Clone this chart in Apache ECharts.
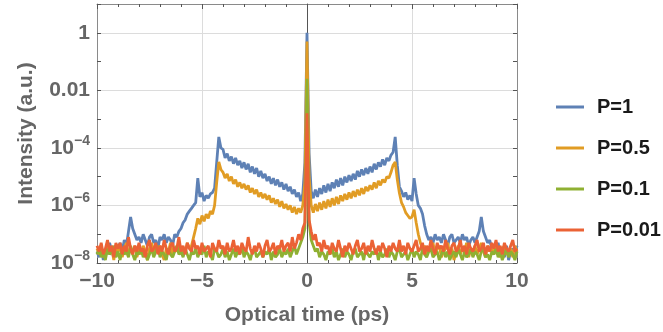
<!DOCTYPE html>
<html>
<head>
<meta charset="utf-8">
<script src="https://cdn.jsdelivr.net/npm/echarts@6/dist/echarts.min.js"></script>
<style>
  html, body { margin: 0; padding: 0; background: #fff; }
  #chart { width: 663px; height: 332px; }
</style>
</head>
<body>
<div id="chart"></div>
<script>
  // log10 of intensity, sampled every 0.1 ps from -10 to 10 ps
  var tStart = -10, tStep = 0.1;

  var seriesNames = ['P=1', 'P=0.5', 'P=0.1', 'P=0.01'];
  var seriesColors = ['#5e81b5', '#e19c24', '#8fb032', '#eb6235'];

  var logP1 = [
    -7.6,-7.8,-7.4,-7.9,-7.5,-7.7,-7.3,-7.6,-7.8,-7.4,
    -7.5,-7.3,-7.6,-7.2,-7.4,
    -6.9,-6.4,-6.8,-7.0,-7.2,
    -7.1,-7.3,-7.0,-7.2,-7.4,-7.1,-7.0,-7.3,-7.2,-7.5,
    -7.1,-7.2,-7.0,-7.3,-7.1,-7.2,-7.4,-7.0,-7.1,
    -6.9,-6.8,-6.6,-6.5,-6.3,-6.2,
    -6.1,-6.0,-5.9,-5.05,-5.7,
    -5.55,-5.85,-5.65,-5.75,-5.6,-5.55,-5.4,
    -4.5,-3.62,-4.0,
    -4.05,-4.35,-4.2,-4.45,-4.3,-4.55,-4.35,-4.6,-4.45,-4.7,
    -4.5,-4.75,-4.55,-4.85,-4.65,-4.9,-4.7,-5.0,-4.8,-5.05,
    -4.9,-5.15,-5.0,-5.25,-5.05,-5.3,-5.1,-5.35,-5.2,-5.45,
    -5.25,-5.5,-5.35,-5.6,-5.45,-5.7,-5.55,-5.85,-5.6,-4.5,
    0,
    -4.2,-5.5,-5.75,-5.45,-5.7,-5.4,-5.6,-5.3,-5.55,-5.25,
    -5.5,-5.2,-5.4,-5.1,-5.35,-5.05,-5.3,-5.0,-5.2,-4.95,
    -5.15,-4.9,-5.1,-4.8,-5.0,-4.75,-4.95,-4.7,-4.9,-4.65,
    -4.85,-4.55,-4.75,-4.5,-4.65,-4.4,-4.6,-4.35,-4.45,-4.25,
    -4.15,-3.62,
    -4.6,-5.35,-5.5,-5.7,-5.55,-5.8,-5.65,-5.85,
    -5.05,-5.6,-6.0,-6.1,-6.3,-6.7,-7.0,-7.2,-7.1,-7.3,
    -7.0,-7.2,-7.1,-7.3,-7.0,-7.2,-7.4,-7.1,-7.0,-7.3,
    -7.2,-7.1,-7.3,-7.0,-7.2,-7.1,-7.4,-7.2,-7.1,-7.3,
    -7.1,-6.9,-6.4,-6.9,-7.1,-7.3,-7.2,-7.5,-7.4,-7.6,
    -7.3,-7.7,-7.5,-7.8,-7.4,-7.9,-7.6,-7.5,-7.7,-7.4
  ];

  var logP05 = [
    -7.5,-7.7,-7.4,-7.8,-7.6,-7.3,-7.7,-7.5,-7.9,-7.4,
    -7.6,-7.4,-7.8,-7.5,-7.3,-7.7,-7.5,-7.6,-7.4,-7.8,
    -7.5,-7.7,-7.4,-7.6,-7.9,-7.5,-7.3,-7.7,-7.5,-7.6,
    -7.4,-7.7,-7.9,-7.5,-7.6,-7.3,-7.7,-7.5,-7.6,-7.4,
    -7.7,-7.5,-7.6,-7.3,-7.5,-7.4,
    -7.1,-6.8,-6.45,-6.65,
    -6.35,-6.55,-6.3,-6.45,-6.2,-6.3,-6.0,
    -5.2,-4.49,-4.75,
    -4.85,-5.05,-4.9,-5.15,-5.0,-5.25,-5.1,-5.35,-5.2,-5.4,
    -5.25,-5.45,-5.3,-5.55,-5.4,-5.6,-5.45,-5.7,-5.55,-5.75,
    -5.6,-5.8,-5.65,-5.9,-5.75,-5.95,-5.8,-6.05,-5.85,-6.1,
    -5.95,-6.15,-6.0,-6.25,-6.05,-6.3,-6.1,-6.25,-6.0,-5.2,
    -0.3,
    -5.0,-6.0,-6.25,-5.95,-6.2,-5.9,-6.15,-5.85,-6.1,-5.8,
    -6.05,-5.75,-6.0,-5.7,-5.95,-5.65,-5.85,-5.6,-5.8,-5.55,
    -5.75,-5.5,-5.7,-5.45,-5.65,-5.4,-5.6,-5.35,-5.5,-5.3,
    -5.45,-5.2,-5.4,-5.15,-5.3,-5.1,-5.2,-5.0,-5.05,-4.85,
    -4.6,-4.49,
    -5.1,-5.57,-5.9,-6.05,-6.25,-6.35,-6.45,-6.4,
    -6.15,-6.6,-7.0,-7.3,-7.5,-7.4,-7.7,-7.5,-7.6,-7.3,
    -7.7,-7.5,-7.4,-7.8,-7.6,-7.5,-7.3,-7.7,-7.5,-7.9,
    -7.6,-7.4,-7.7,-7.5,-7.6,-7.3,-7.8,-7.5,-7.6,-7.4,
    -7.7,-7.5,-7.3,-7.6,-7.8,-7.4,-7.6,-7.5,-7.7,-7.4,
    -7.6,-7.8,-7.5,-7.4,-7.7,-7.6,-7.5,-7.8,-7.4,-7.6
  ];

  var logP01 = [
    -7.7,-7.5,-7.8,-7.6,-7.9,-7.5,-7.7,-7.6,-7.4,-7.8,
    -7.6,-7.9,-7.5,-7.7,-7.6,-7.8,-7.4,-7.7,-7.9,-7.6,
    -7.7,-7.5,-7.8,-7.6,-7.9,-7.7,-7.5,-7.8,-7.6,-7.4,
    -7.8,-7.6,-7.7,-7.9,-7.5,-7.7,-7.8,-7.6,-7.4,-7.7,
    -7.6,-7.8,-7.5,-7.7,-7.9,-7.6,-7.7,-7.5,-7.8,-7.6,
    -7.7,-7.4,-7.8,-7.6,-7.7,-7.9,-7.5,-7.6,-7.8,-7.7,
    -7.5,-7.8,-7.6,-7.9,-7.7,-7.5,-7.8,-7.6,-7.7,-7.4,
    -7.8,-7.6,-7.7,-7.9,-7.6,-7.5,-7.8,-7.7,-7.6,-7.8,
    -7.6,-7.7,-7.5,-7.9,-7.6,-7.8,-7.7,-7.5,-7.8,-7.6,
    -7.7,-7.5,-7.8,-7.6,-7.4,-7.7,-7.5,-7.3,-7.1,-6.8,
    -1.6,
    -6.6,-7.2,-7.4,-7.6,-7.5,-7.8,-7.6,-7.7,-7.9,-7.6,
    -7.7,-7.5,-7.8,-7.6,-7.9,-7.7,-7.5,-7.8,-7.6,-7.7,
    -7.9,-7.6,-7.5,-7.8,-7.7,-7.6,-7.9,-7.5,-7.7,-7.8,
    -7.6,-7.7,-7.5,-7.9,-7.6,-7.8,-7.7,-7.5,-7.8,-7.6,
    -7.7,-7.9,-7.6,-7.5,-7.8,-7.7,-7.6,-7.9,-7.7,-7.5,
    -7.8,-7.6,-7.7,-7.9,-7.5,-7.7,-7.8,-7.6,-7.5,-7.8,
    -7.7,-7.6,-7.9,-7.7,-7.5,-7.8,-7.6,-7.9,-7.7,-7.6,
    -7.8,-7.5,-7.7,-7.9,-7.6,-7.8,-7.7,-7.5,-7.8,-7.6,
    -7.7,-7.9,-7.6,-7.5,-7.8,-7.7,-7.9,-7.6,-7.7,-7.5,
    -7.8,-7.6,-7.9,-7.7,-7.5,-7.8,-7.6,-7.7,-7.9,-7.6
  ];

  var logP001 = [
    -7.4,-7.6,-7.3,-7.7,-7.5,-7.2,-7.6,-7.4,-7.8,-7.3,
    -7.5,-7.3,-7.7,-7.4,-7.6,-7.1,-7.5,-7.7,-7.4,-7.6,
    -7.3,-7.6,-7.5,-7.8,-7.4,-7.2,-7.6,-7.5,-7.3,-7.7,
    -7.4,-7.6,-7.2,-7.5,-7.7,-7.4,-7.3,-7.6,-7.5,-7.1,
    -7.6,-7.4,-7.7,-7.3,-7.5,-7.6,-7.2,-7.5,-7.4,-7.7,
    -7.3,-7.6,-7.5,-7.4,-7.8,-7.3,-7.5,-7.6,-7.2,-7.5,
    -7.4,-7.7,-7.3,-7.6,-7.5,-7.2,-7.6,-7.4,-7.7,-7.3,
    -7.5,-7.6,-7.1,-7.5,-7.7,-7.4,-7.6,-7.3,-7.5,-7.8,
    -7.4,-7.2,-7.6,-7.5,-7.3,-7.7,-7.4,-7.5,-7.2,-7.6,
    -7.4,-7.3,-7.6,-7.1,-7.5,-7.3,-7.0,-7.2,-6.8,-6.6,
    -2.8,
    -6.5,-6.9,-7.2,-7.0,-7.4,-7.3,-7.6,-7.2,-7.5,-7.4,
    -7.7,-7.3,-7.5,-7.6,-7.2,-7.5,-7.8,-7.4,-7.6,-7.3,
    -7.5,-7.7,-7.4,-7.2,-7.6,-7.5,-7.3,-7.7,-7.4,-7.6,
    -7.2,-7.5,-7.7,-7.4,-7.6,-7.3,-7.5,-7.8,-7.4,-7.6,
    -7.3,-7.5,-7.6,-7.2,-7.6,-7.4,-7.7,-7.3,-7.5,-7.6,
    -7.4,-7.2,-7.6,-7.5,-7.3,-7.7,-7.4,-7.6,-7.2,-7.5,
    -7.7,-7.3,-7.5,-7.4,-7.6,-7.2,-7.5,-7.7,-7.4,-7.3,
    -7.6,-7.5,-7.2,-7.6,-7.4,-7.7,-7.3,-7.5,-7.6,-7.4,
    -7.2,-7.6,-7.5,-7.3,-7.7,-7.4,-7.6,-7.3,-7.5,-7.2,
    -7.6,-7.4,-7.7,-7.3,-7.5,-7.6,-7.4,-7.2,-7.6,-7.5
  ];

  // y tick labels (log10 value -> text), x tick labels
  var yTickValues = [-8, -6, -4, -2, 0];
  var yTickLabels = ['{b|10}{s|\u22128}', '{b|10}{s|\u22126}', '{b|10}{s|\u22124}', '{b|0.01}', '{b|1}'];
  var xTickLabels = { '-10': '\u221210', '-5': '\u22125', '0': '0', '5': '5', '10': '10' };

  var chartDom = document.getElementById('chart');
  var myChart = echarts.init(chartDom);

  var font = 'Liberation Sans, Arial, sans-serif';
  var frameColor = '#8a8a8a';
  var textGray = '#666666';

  function pairs(arr) {
    return arr.map(function (v, i) {
      return [+(tStart + i * tStep).toFixed(1), v];
    });
  }

  var allData = [logP1, logP05, logP01, logP001];

  var option = {
    animation: false,
    grid: { left: 97, right: 146, top: 4, bottom: 69 },
    legend: {
      orient: 'vertical',
      left: 551,
      top: 91,
      icon: 'rect',
      itemWidth: 28,
      itemHeight: 3,
      itemGap: 19,
      data: seriesNames,
      textStyle: {
        fontFamily: font, fontWeight: 'bold', fontSize: 20, color: '#1a1a1a',
        lineHeight: 22, padding: [0, 0, 0, 8]
      }
    },
    xAxis: [{
      type: 'value', min: -10, max: 10, interval: 5, position: 'bottom',
      name: 'Optical time (ps)', nameLocation: 'middle', nameGap: 42,
      nameTextStyle: { fontFamily: font, fontWeight: 'bold', fontSize: 21, color: textGray },
      axisLine: { onZero: false, lineStyle: { color: frameColor } },
      axisTick: { inside: true, length: 5, lineStyle: { color: '#555' } },
      minorTick: { show: true, splitNumber: 5, length: 3, lineStyle: { color: '#555' } },
      splitLine: { show: true, lineStyle: { color: '#dcdcdc' } },
      axisLabel: {
        margin: 8, fontFamily: font, fontWeight: 'bold', fontSize: 21, color: textGray,
        formatter: function (v) { return xTickLabels[String(v)]; }
      }
    }, {
      type: 'value', min: -10, max: 10, interval: 5, position: 'top',
      axisLine: { onZero: false, lineStyle: { color: frameColor } },
      axisTick: { inside: true, length: 5, lineStyle: { color: '#555' } },
      minorTick: { show: true, splitNumber: 5, length: 3, lineStyle: { color: '#555' } },
      splitLine: { show: false },
      axisLabel: { show: false }
    }],
    yAxis: [{
      type: 'value', min: -8, max: 1, interval: 1, position: 'left',
      name: 'Intensity (a.u.)', nameLocation: 'middle', nameGap: 60,
      nameTextStyle: { fontFamily: font, fontWeight: 'bold', fontSize: 21, color: textGray },
      axisLine: { onZero: false, lineStyle: { color: frameColor } },
      axisTick: { inside: true, length: 4, lineStyle: { color: '#555' } },
      splitLine: { show: false },
      axisLabel: {
        margin: 7, color: textGray,
        formatter: function (v) {
          var k = yTickValues.indexOf(v);
          return k < 0 ? '' : yTickLabels[k];
        },
        rich: {
          b: { fontFamily: font, fontWeight: 'bold', fontSize: 21, color: textGray },
          s: { fontFamily: font, fontWeight: 'bold', fontSize: 14, color: textGray, padding: [0, 0, 14, 0] }
        }
      }
    }, {
      type: 'value', min: -8, max: 1, interval: 1, position: 'right',
      axisLine: { onZero: false, lineStyle: { color: frameColor } },
      axisTick: { inside: true, length: 4, lineStyle: { color: '#555' } },
      splitLine: { show: false },
      axisLabel: { show: false }
    }, {
      type: 'value', min: -8, max: 1, interval: 2, position: 'left',
      axisLine: { show: false, onZero: false },
      axisTick: { show: false },
      axisLabel: { show: false },
      splitLine: { show: true, lineStyle: { color: '#dcdcdc' } }
    }, {
      // axis drawn through t = 0
      type: 'value', min: -8, max: 1, position: 'left',
      axisLine: { show: true, onZero: true, lineStyle: { color: '#555', width: 1 } },
      axisTick: { show: false },
      axisLabel: { show: false },
      splitLine: { show: false }
    }],
    series: allData.map(function (arr, k) {
      return {
        name: seriesNames[k],
        type: 'line',
        xAxisIndex: 0,
        yAxisIndex: 0,
        showSymbol: false,
        symbol: 'none',
        color: seriesColors[k],
        lineStyle: { width: 2.8, color: seriesColors[k] },
        data: pairs(arr)
      };
    })
  };

  option && myChart.setOption(option);
</script>
</body>
</html>
